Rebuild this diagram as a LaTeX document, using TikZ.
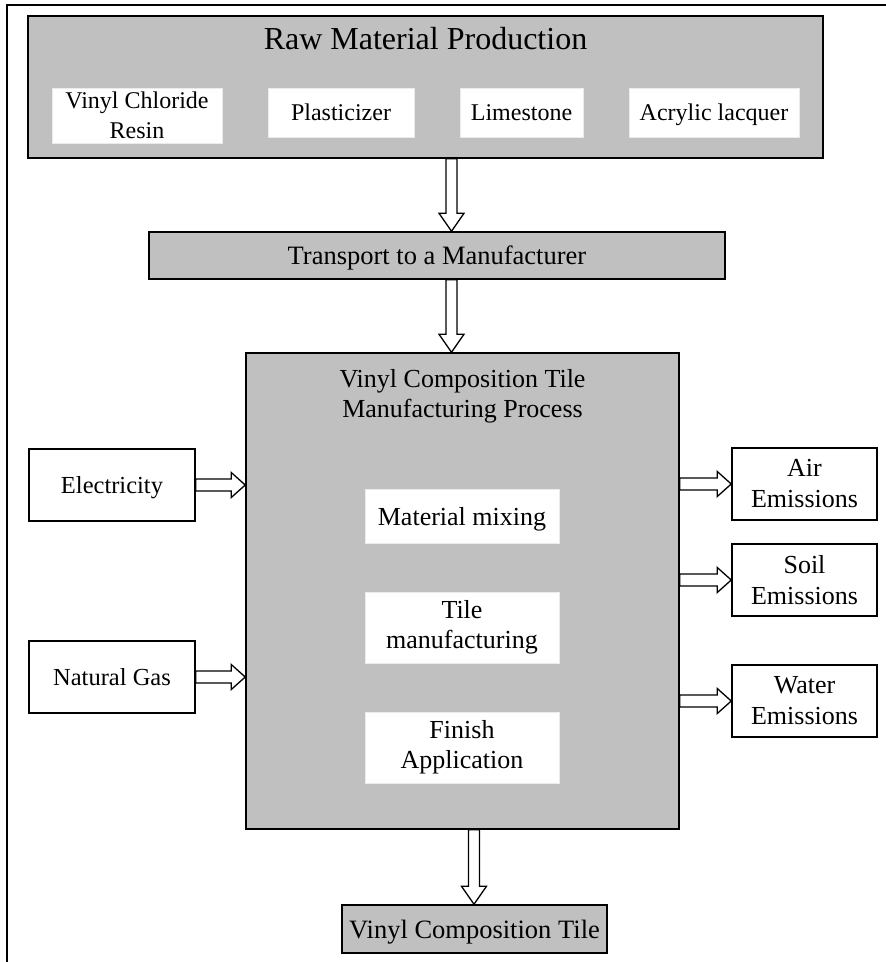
\documentclass[tikz,border=0pt]{standalone}
\usepackage{fontspec}
\setmainfont{Liberation Serif}
\usetikzlibrary{calc}
\definecolor{boxgray}{HTML}{C0C0C0}
\tikzset{
  graybox/.style={draw=black, line width=1.5pt, fill=boxgray, rectangle, inner sep=0pt, align=center, font=\fontsize{26.5}{30}\selectfont},
  whitebox/.style={draw=black!8, line width=0.5pt, fill=white, rectangle, inner sep=0pt, align=center, font=\fontsize{24}{30}\selectfont},
  sidebox/.style={draw=black, line width=1.5pt, fill=white, rectangle, inner sep=0pt, align=center, font=\fontsize{26}{31}\selectfont},
  oneline/.style={text depth=0pt},
  label/.style={inner sep=0pt, align=center, font=\fontsize{26}{30}\selectfont},
  blockarrow/.style={draw=black, fill=white, line width=1.3pt, line join=miter},
  framebar/.style={draw=black, line width=2.5pt}
}
\newcommand{\varrowblk}[2]{%
  \draw[blockarrow] let \p1=#1, \p2=#2 in
    (\x1-5.5pt,\y1) -- (\x1-5.5pt,\y2+18pt) -- (\x1-12.5pt,\y2+18pt) -- (\x1,\y2)
    -- (\x1+12.5pt,\y2+18pt) -- (\x1+5.5pt,\y2+18pt) -- (\x1+5.5pt,\y1) -- cycle;}
\newcommand{\harrowblk}[2]{%
  \draw[blockarrow] let \p1=#1, \p2=#2 in
    (\x1,\y1-6pt) -- (\x2-14pt,\y1-6pt) -- (\x2-14pt,\y1-12.5pt) -- (\x2,\y1)
    -- (\x2-14pt,\y1+12.5pt) -- (\x2-14pt,\y1+6pt) -- (\x1,\y1+6pt) -- cycle;}
\begin{document}
\begin{tikzpicture}[x=1pt,y=-1pt]
\useasboundingbox (0,0) rectangle (886,962);
% frame
\coordinate (fA) at (7,962);
\coordinate (fB) at (7,5);
\coordinate (fC) at (886,5);
\draw[framebar] (fA) -- (fB) -- (fC);

% raw material
\node[graybox, minimum width=795pt, minimum height=142pt] (raw) at (425.5,87) {};
\node[label, font=\fontsize{32}{36}\selectfont] (rawt) at (425.5,39) {Raw Material Production};
\node[whitebox, minimum width=170pt, minimum height=55pt] (vcr) at (137,115.5) {Vinyl Chloride\\Resin};
\node[whitebox, oneline, minimum width=146pt, minimum height=49pt] (pla) at (341,112.5) {Plasticizer};
\node[whitebox, oneline, minimum width=123pt, minimum height=49pt] (lim) at (521.5,112.5) {Limestone};
\node[whitebox, oneline, minimum width=170pt, minimum height=49pt] (acr) at (714,112.5) {Acrylic lacquer};

% transport
\node[graybox, oneline, minimum width=576pt, minimum height=47pt] (trans) at (437,255.5) {Transport to a Manufacturer};

% main process
\node[graybox, minimum width=433pt, minimum height=476pt] (main) at (462.5,591) {};
\node[label] (maint) at (462.5,396) {Vinyl Composition Tile\\Manufacturing Process};
\node[whitebox, oneline, font=\fontsize{26}{30}\selectfont, minimum width=194pt, minimum height=54pt] (mix) at (462,516) {Material mixing};
\node[whitebox, font=\fontsize{26}{30}\selectfont, minimum width=194pt, minimum height=71pt] (tile) at (462,627.5) {Tile\\manufacturing};
\node[whitebox, font=\fontsize{26}{30}\selectfont, minimum width=194pt, minimum height=71pt] (fin) at (462,747.5) {Finish\\Application};

% inputs
\node[sidebox, oneline, font=\fontsize{24.5}{30}\selectfont, minimum width=166pt, minimum height=72pt] (elec) at (112,485) {Electricity};
\node[sidebox, oneline, font=\fontsize{24.5}{30}\selectfont, minimum width=166pt, minimum height=72pt] (gas) at (112,677) {Natural Gas};

% outputs
\node[sidebox, minimum width=145pt, minimum height=72pt] (air) at (804.5,484) {Air\\Emissions};
\node[sidebox, minimum width=145pt, minimum height=72pt] (soil) at (804.5,580) {Soil\\Emissions};
\node[sidebox, minimum width=145pt, minimum height=72pt] (water) at (804.5,701) {Water\\Emissions};

% product
\node[graybox, oneline, minimum width=265pt, minimum height=48pt] (vct) at (474.5,929) {Vinyl Composition Tile};

% arrow axes
\coordinate (ax1) at (451.5,0);
\coordinate (ax3) at (474,0);

\varrowblk{(raw.south -| ax1)}{(trans.north -| ax1)}
\varrowblk{(trans.south -| ax1)}{(main.north -| ax1)}
\varrowblk{(main.south -| ax3)}{(vct.north -| ax3)}

\harrowblk{(elec.east)}{(main.west |- elec.east)}
\harrowblk{(gas.east)}{(main.west |- gas.east)}
\harrowblk{(main.east |- air.west)}{(air.west)}
\harrowblk{(main.east |- soil.west)}{(soil.west)}
\harrowblk{(main.east |- water.west)}{(water.west)}
\end{tikzpicture}
\end{document}
